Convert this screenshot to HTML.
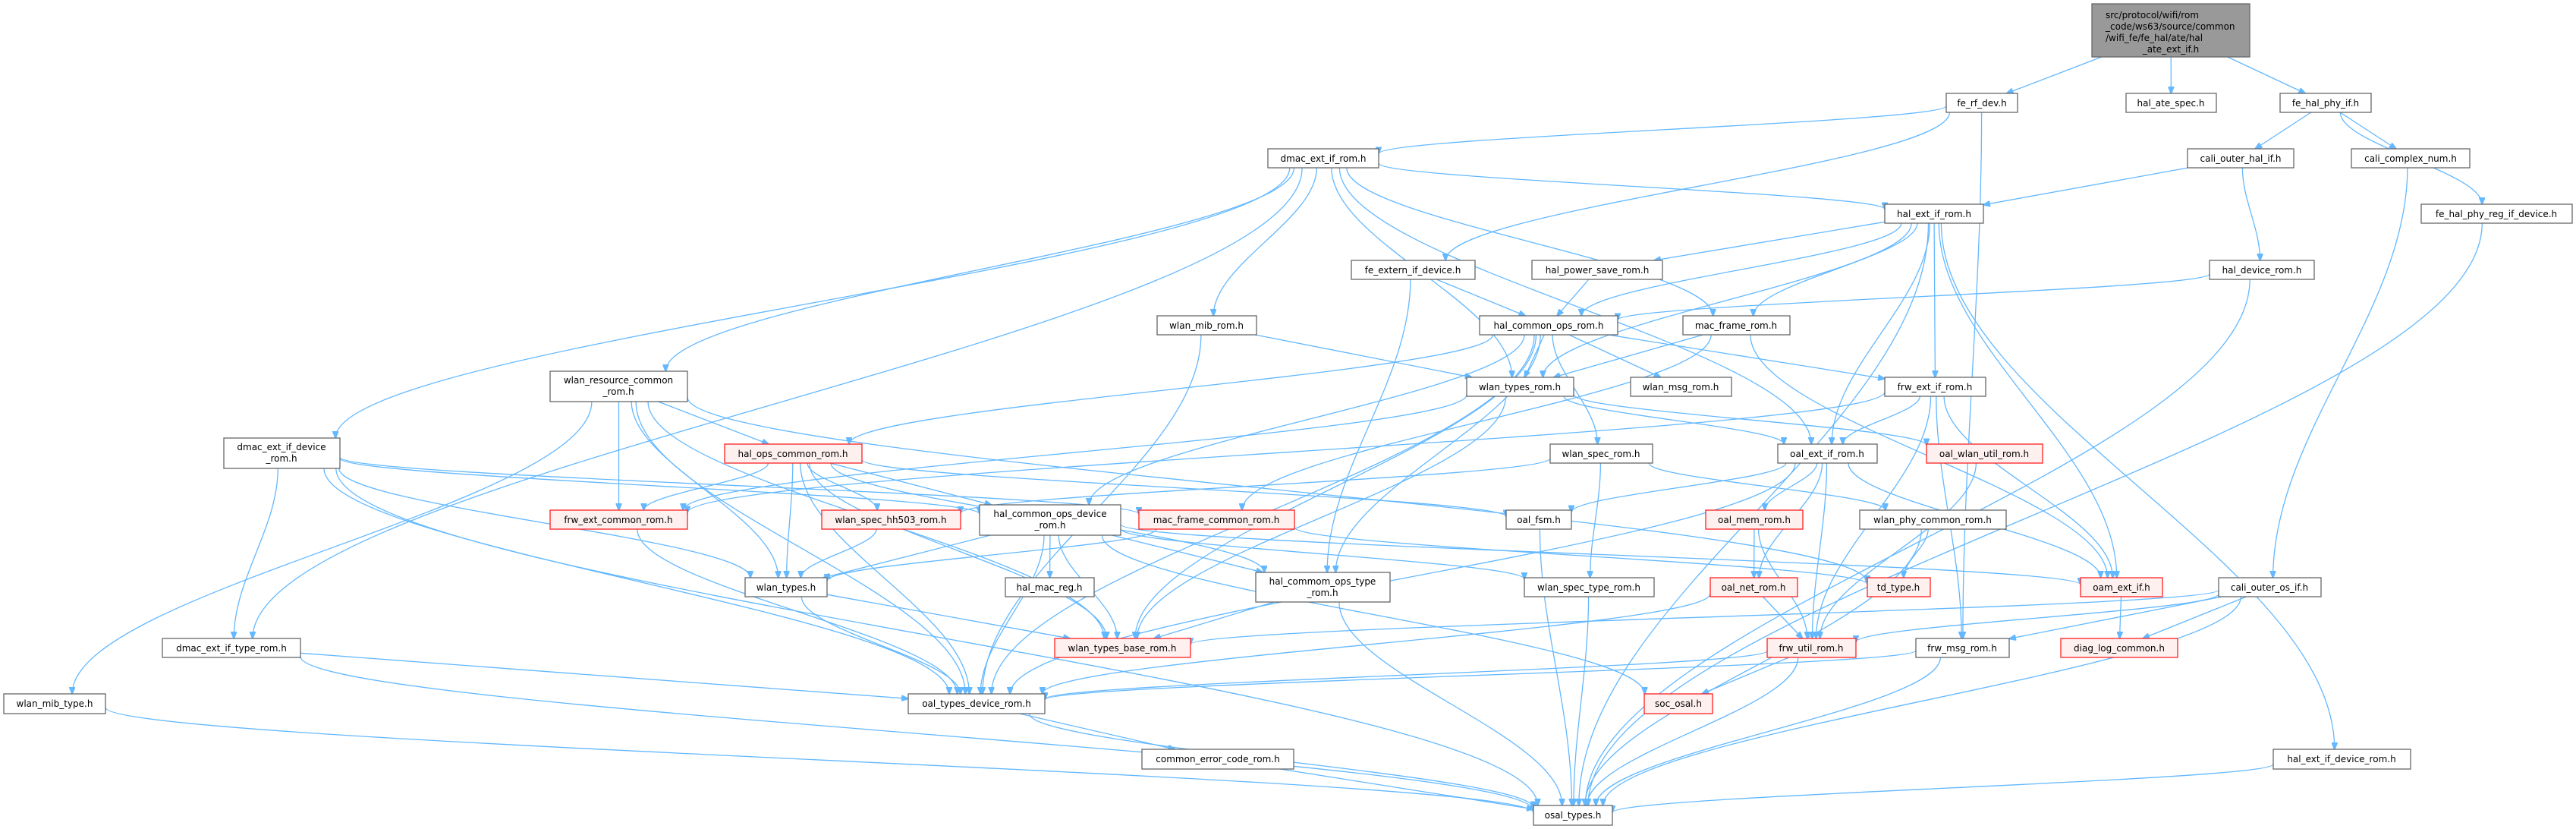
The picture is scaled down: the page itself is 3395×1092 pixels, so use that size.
<!DOCTYPE html>
<html><head><meta charset="utf-8"><style>
html,body{margin:0;padding:0;background:#fff;width:3395px;height:1092px;overflow:hidden}
svg{display:block}
text{font-family:"DejaVu Sans","Liberation Sans",sans-serif;font-size:12px;fill:#000;text-anchor:middle}
.n rect{fill:#fff;stroke:#666;stroke-width:1.3}
.r rect{fill:#fff0f0;stroke:#ff2020;stroke-width:1.3}
.root rect{fill:#999;stroke:#666;stroke-width:1.3}
#edges path{fill:none;stroke:#63b8ff;stroke-width:1.3}
</style></head><body>
<svg id="s" width="3395" height="1092" viewBox="0 0 3395 1092" xmlns="http://www.w3.org/2000/svg">
<defs><marker id="a" markerWidth="10" markerHeight="8" refX="9" refY="4" orient="auto" markerUnits="userSpaceOnUse"><path d="M0,0 L10,4 L0,8 z" fill="#63b8ff" stroke="#63b8ff"/></marker></defs>
<g id="edges"></g>
<g id="nodes">
<g class="root"><rect x="2757" y="5" width="208" height="70"/><text x="2775" y="24" style="text-anchor:start">src/protocol/wifi/rom</text><text x="2775" y="39" style="text-anchor:start">_code/ws63/source/common</text><text x="2775" y="54" style="text-anchor:start">/wifi_fe/fe_hal/ate/hal</text><text x="2861" y="69">_ate_ext_if.h</text></g>
<g class="n"><rect x="2565" y="123" width="94" height="25"/><text x="2612" y="140">fe_rf_dev.h</text></g>
<g class="n"><rect x="2802" y="123" width="119" height="25"/><text x="2861" y="140">hal_ate_spec.h</text></g>
<g class="n"><rect x="3005" y="123" width="120" height="25"/><text x="3065" y="140">fe_hal_phy_if.h</text></g>
<g class="n"><rect x="1671" y="196" width="146" height="25"/><text x="1744" y="213">dmac_ext_if_rom.h</text></g>
<g class="n"><rect x="2883" y="196" width="140" height="25"/><text x="2953" y="213">cali_outer_hal_if.h</text></g>
<g class="n"><rect x="3099" y="196" width="156" height="25"/><text x="3177" y="213">cali_complex_num.h</text></g>
<g class="n"><rect x="2484" y="269" width="130" height="25"/><text x="2549" y="286">hal_ext_if_rom.h</text></g>
<g class="n"><rect x="3191" y="269" width="199" height="25"/><text x="3290" y="286">fe_hal_phy_reg_if_device.h</text></g>
<g class="n"><rect x="1781" y="343" width="163" height="25"/><text x="1862" y="360">fe_extern_if_device.h</text></g>
<g class="n"><rect x="2019" y="343" width="172" height="25"/><text x="2105" y="360">hal_power_save_rom.h</text></g>
<g class="n"><rect x="2912" y="343" width="138" height="25"/><text x="2981" y="360">hal_device_rom.h</text></g>
<g class="n"><rect x="1525" y="416" width="131" height="25"/><text x="1590" y="433">wlan_mib_rom.h</text></g>
<g class="n"><rect x="1950" y="416" width="182" height="25"/><text x="2041" y="433">hal_common_ops_rom.h</text></g>
<g class="n"><rect x="2218" y="416" width="141" height="25"/><text x="2288" y="433">mac_frame_rom.h</text></g>
<g class="n"><rect x="725" y="489" width="181" height="40"/><text x="815" y="505">wlan_resource_common</text><text x="815" y="520">_rom.h</text></g>
<g class="n"><rect x="1933" y="497" width="141" height="25"/><text x="2003" y="514">wlan_types_rom.h</text></g>
<g class="n"><rect x="2149" y="497" width="133" height="25"/><text x="2215" y="514">wlan_msg_rom.h</text></g>
<g class="n"><rect x="2484" y="497" width="133" height="25"/><text x="2550" y="514">frw_ext_if_rom.h</text></g>
<g class="n"><rect x="295" y="577" width="153" height="40"/><text x="371" y="593">dmac_ext_if_device</text><text x="371" y="608">_rom.h</text></g>
<g class="r"><rect x="955" y="585" width="181" height="25"/><text x="1045" y="602">hal_ops_common_rom.h</text></g>
<g class="n"><rect x="2043" y="585" width="135" height="25"/><text x="2110" y="602">wlan_spec_rom.h</text></g>
<g class="n"><rect x="2343" y="585" width="131" height="25"/><text x="2408" y="602">oal_ext_if_rom.h</text></g>
<g class="r"><rect x="2539" y="585" width="153" height="25"/><text x="2615" y="602">oal_wlan_util_rom.h</text></g>
<g class="r"><rect x="725" y="672" width="181" height="25"/><text x="815" y="689">frw_ext_common_rom.h</text></g>
<g class="r"><rect x="1083" y="672" width="183" height="25"/><text x="1174" y="689">wlan_spec_hh503_rom.h</text></g>
<g class="n"><rect x="1291" y="665" width="186" height="40"/><text x="1384" y="681">hal_common_ops_device</text><text x="1384" y="696">_rom.h</text></g>
<g class="r"><rect x="1501" y="672" width="205" height="25"/><text x="1603" y="689">mac_frame_common_rom.h</text></g>
<g class="n"><rect x="1985" y="672" width="86" height="25"/><text x="2028" y="689">oal_fsm.h</text></g>
<g class="r"><rect x="2248" y="672" width="128" height="25"/><text x="2312" y="689">oal_mem_rom.h</text></g>
<g class="n"><rect x="2451" y="672" width="193" height="25"/><text x="2547" y="689">wlan_phy_common_rom.h</text></g>
<g class="n"><rect x="982" y="761" width="108" height="25"/><text x="1036" y="778">wlan_types.h</text></g>
<g class="n"><rect x="1325" y="761" width="117" height="25"/><text x="1383" y="778">hal_mac_reg.h</text></g>
<g class="n"><rect x="1655" y="754" width="177" height="39"/><text x="1743" y="770">hal_commom_ops_type</text><text x="1743" y="785">_rom.h</text></g>
<g class="n"><rect x="2009" y="761" width="171" height="25"/><text x="2094" y="778">wlan_spec_type_rom.h</text></g>
<g class="r"><rect x="2254" y="761" width="115" height="25"/><text x="2311" y="778">oal_net_rom.h</text></g>
<g class="r"><rect x="2461" y="761" width="83" height="25"/><text x="2502" y="778">td_type.h</text></g>
<g class="r"><rect x="2742" y="761" width="108" height="25"/><text x="2796" y="778">oam_ext_if.h</text></g>
<g class="n"><rect x="2924" y="761" width="135" height="25"/><text x="2991" y="778">cali_outer_os_if.h</text></g>
<g class="n"><rect x="214" y="841" width="182" height="25"/><text x="305" y="858">dmac_ext_if_type_rom.h</text></g>
<g class="r"><rect x="1390" y="841" width="179" height="25"/><text x="1479" y="858">wlan_types_base_rom.h</text></g>
<g class="r"><rect x="2329" y="841" width="117" height="25"/><text x="2387" y="858">frw_util_rom.h</text></g>
<g class="n"><rect x="2525" y="841" width="123" height="25"/><text x="2586" y="858">frw_msg_rom.h</text></g>
<g class="r"><rect x="2716" y="841" width="154" height="25"/><text x="2793" y="858">diag_log_common.h</text></g>
<g class="n"><rect x="5" y="914" width="134" height="26"/><text x="72" y="931">wlan_mib_type.h</text></g>
<g class="n"><rect x="1197" y="914" width="180" height="26"/><text x="1287" y="931">oal_types_device_rom.h</text></g>
<g class="r"><rect x="2167" y="914" width="90" height="26"/><text x="2212" y="931">soc_osal.h</text></g>
<g class="n"><rect x="1505" y="987" width="200" height="26"/><text x="1605" y="1004">common_error_code_rom.h</text></g>
<g class="n"><rect x="2996" y="987" width="181" height="26"/><text x="3086" y="1004">hal_ext_if_device_rom.h</text></g>
<g class="n"><rect x="2021" y="1061" width="104" height="26"/><text x="2073" y="1078">osal_types.h</text></g>
</g>
</svg>
<script>
var N={
root:[2757,5,208,70],ferf:[2565,123,94,25],ate:[2802,123,119,25],fphy:[3005,123,120,25],
dmac:[1671,196,146,25],coh:[2883,196,140,25],ccn:[3099,196,156,25],hext:[2484,269,130,25],freg:[3191,269,199,25],
fext:[1781,343,163,25],hps:[2019,343,172,25],hdev:[2912,343,138,25],mib:[1525,416,131,25],hco:[1950,416,182,25],mfr:[2218,416,141,25],
wres:[725,489,181,40],wtr:[1933,497,141,25],wmsg:[2149,497,133,25],frwx:[2484,497,133,25],
ddev:[295,577,153,40],hopc:[955,585,181,25],wsp:[2043,585,135,25],oalx:[2343,585,131,25],owu:[2539,585,153,25],
frwc:[725,672,181,25],hh503:[1083,672,183,25],hcod:[1291,665,186,40],mfc:[1501,672,205,25],fsm:[1985,672,86,25],omem:[2248,672,128,25],wphy:[2451,672,193,25],
wt:[982,761,108,25],hmr:[1325,761,117,25],hcot:[1655,754,177,39],wst:[2009,761,171,25],onet:[2254,761,115,25],td:[2461,761,83,25],oam:[2742,761,108,25],coos:[2924,761,135,25],
dtype:[214,841,182,25],wtb:[1390,841,179,25],fut:[2329,841,117,25],fmsg:[2525,841,123,25],diag:[2716,841,154,25],
mibt:[5,914,134,26],otd:[1197,914,180,26],soc:[2167,914,90,26],cerr:[1505,987,200,26],hxd:[2996,987,181,26],osal:[2021,1061,104,26]};
var E="root ferf,root ate,root fphy,ferf dmac,ferf fext,ferf fmsg,fphy coh,fphy ccn,fphy freg,coh hext,coh hdev,ccn coos,freg osal,hdev hco,hdev osal,coos wtb,coos diag,coos osal,coos fut,coos fmsg,"+
"dmac wres,dmac ddev,dmac dtype,dmac mib,dmac wtr,dmac mfr,dmac hext,dmac oalx,fext hco,fext hcot,hps hco,hext hps,hext hco,hext wtr,hext frwx,hext oalx,hext oam,hext osal,hext mfr,"+
"mib wtr,mib otd,hco wtr,hco wmsg,hco frwx,hco hopc,hco hcod,hco hcot,hco otd,hco wsp,hco wtb,mfr wtr,mfr mfc,mfr oam,wres hopc,wres frwc,wres wt,wres otd,wres mibt,wres td,wres wtb,"+
"wtr oalx,wtr wtb,wtr owu,wtr frwc,frwx oalx,frwx frwc,frwx oam,frwx fmsg,frwx fut,ddev wt,ddev dtype,ddev otd,ddev osal,ddev hcod,ddev mfc,hopc frwc,hopc wt,hopc wtb,hopc otd,hopc hcod,hopc hcot,hopc fsm,hopc hh503,"+
"wsp wst,wsp wphy,wsp hh503,oalx fsm,oalx omem,oalx onet,oalx fut,oalx otd,oalx oam,owu fut,hcod wt,hcod hmr,hcod wtb,hcod otd,hcod hcot,hcod wst,hcod soc,hcod oam,mfc wt,mfc td,hh503 wt,fsm osal,omem onet,omem fut,onet fut,onet otd,"+
"wphy td,wphy osal,wt wtb,wt otd,hcot wtb,hcot osal,wst osal,oam diag,fut soc,fut osal,fut otd,fmsg otd,fmsg osal,dtype otd,dtype osal,mibt osal,otd cerr,otd osal,cerr osal,hxd osal,frwc otd,hext hxd";
function c(r){return [r[0]+r[2]/2,r[1]+r[3]/2];}
function clip(r,cx,cy,dx,dy){var hw=r[2]/2,hh=r[3]/2,t=1e9;if(dx)t=Math.min(t,hw/Math.abs(dx));if(dy)t=Math.min(t,hh/Math.abs(dy));return [cx+dx*t,cy+dy*t];}
var g=document.getElementById('edges'),h='';
E.split(',').forEach(function(p){var a=p.split(' '),A=N[a[0]],B=N[a[1]];if(!A||!B)return;
var ca=c(A),cb=c(B),dx=cb[0]-ca[0],dy=cb[1]-ca[1];
var s=clip(A,ca[0],ca[1],dx,dy),e=clip(B,cb[0],cb[1],-dx,-dy);
var mx=(s[0]+e[0])/2,my=(s[1]+e[1])/2;
var d='M'+s[0].toFixed(1)+','+s[1].toFixed(1);
if(Math.abs(e[1]-s[1])>60){d+=' C'+s[0].toFixed(1)+','+(s[1]+(e[1]-s[1])*0.35).toFixed(1)+' '+e[0].toFixed(1)+','+(e[1]-(e[1]-s[1])*0.35).toFixed(1)+' '+e[0].toFixed(1)+','+e[1].toFixed(1);}
else d+=' L'+e[0].toFixed(1)+','+e[1].toFixed(1);
h+='<path d="'+d+'" marker-end="url(#a)"/>';});
g.innerHTML=h;
</script>
</body></html>
